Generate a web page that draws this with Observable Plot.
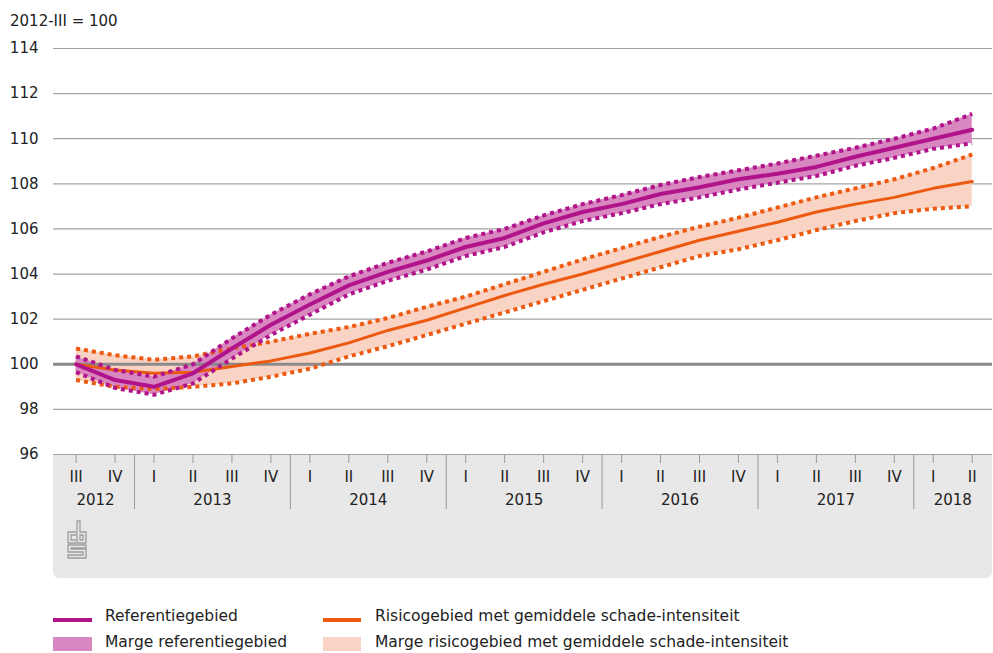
<!DOCTYPE html>
<html>
<head>
<meta charset="utf-8">
<script src="https://cdn.jsdelivr.net/npm/d3@7"></script>
<script src="https://cdn.jsdelivr.net/npm/@observablehq/plot@0.6"></script>
<style>
  html, body { margin: 0; padding: 0; background: #fff; }
  #wrap { position: relative; width: 993px; height: 653px; overflow: hidden; font-family: "DejaVu Sans", sans-serif; color: #222; }
  #axisbg { position: absolute; left: 53px; top: 454px; width: 939px; height: 124px; background: #e8e8e8; border-radius: 0 0 6px 6px; }
  #title { position: absolute; left: 10px; top: 12px; font-size: 15px; line-height: 18px; color: #222; white-space: nowrap; }
  #chart { position: absolute; left: 0; top: 0; }
  #logo { position: absolute; left: 66px; top: 519px; }
  .sw { position: absolute; }
  .lt { position: absolute; font-family: "DejaVu Sans", sans-serif; font-size: 15.5px; line-height: 20px; color: #222; white-space: nowrap; }
</style>
</head>
<body>
<div id="wrap">
  <div id="axisbg"></div>
  <svg id="logo" width="24" height="42" viewBox="0 0 24 42" fill="none" stroke="#9c9c9c" stroke-width="1.3">
    <path d="M10,13 H2 V24 H10"/>
    <path d="M10,16 H5 V21 H10"/>
    <path d="M11,2 V24 H20 V13 H14 V2 Z"/>
    <path d="M14,16 H17 V21 H14 Z"/>
    <path d="M20,26 H2 V33 H17 V36 H2 V39 H20 V30 H5 V29 H20 Z"/>
  </svg>
  <div id="chart"></div>
  <div id="title">2012-III = 100</div>
  <div class="sw" style="left:53px;top:618px;width:39px;height:4px;background:#b0138a"></div>
  <div class="lt" style="left:105px;top:606px">Referentiegebied</div>
  <div class="sw" style="left:53px;top:637px;width:39px;height:14px;background:#d887c1"></div>
  <div class="lt" style="left:105px;top:632px">Marge referentiegebied</div>
  <div class="sw" style="left:323px;top:618px;width:38px;height:4px;background:#ec5a12"></div>
  <div class="lt" style="left:375px;top:606px">Risicogebied met gemiddele schade-intensiteit</div>
  <div class="sw" style="left:323px;top:637px;width:38px;height:14px;background:#f9d3c3"></div>
  <div class="lt" style="left:375px;top:632px">Marge risicogebied met gemiddele schade-intensiteit</div>
</div>
<script>
// Quarter labels and years (2012-III .. 2018-II)
const quarters = ["III","IV","I","II","III","IV","I","II","III","IV","I","II","III","IV","I","II","III","IV","I","II","III","IV","I","II"];
const years = [2012,2012,2013,2013,2013,2013,2014,2014,2014,2014,2015,2015,2015,2015,2016,2016,2016,2016,2017,2017,2017,2017,2018,2018];
const yTicks = [96, 98, 100, 102, 104, 106, 108, 110, 112, 114];

// Referentiegebied
const refLine = [100.0, 99.3, 99.0, 99.6, 100.7, 101.75, 102.65, 103.5, 104.1, 104.6, 105.2, 105.6, 106.25, 106.75, 107.1, 107.55, 107.85, 108.2, 108.45, 108.75, 109.2, 109.6, 110.0, 110.4];
const refHigh = [100.35, 99.75, 99.45, 100.0, 101.15, 102.2, 103.1, 103.9, 104.5, 105.0, 105.6, 106.0, 106.6, 107.1, 107.5, 107.95, 108.3, 108.6, 108.9, 109.25, 109.6, 110.0, 110.45, 111.1];
const refLow = [99.65, 98.95, 98.65, 99.15, 100.25, 101.3, 102.2, 103.1, 103.7, 104.2, 104.8, 105.2, 105.85, 106.35, 106.7, 107.1, 107.4, 107.75, 108.05, 108.35, 108.8, 109.15, 109.55, 109.8];

// Risicogebied met gemiddele schade-intensiteit
const riskLine = [100.0, 99.75, 99.6, 99.65, 99.9, 100.15, 100.5, 100.95, 101.5, 101.95, 102.5, 103.05, 103.55, 104.0, 104.5, 105.0, 105.5, 105.9, 106.3, 106.75, 107.1, 107.4, 107.8, 108.1];
const riskHigh = [100.7, 100.4, 100.2, 100.35, 100.7, 101.0, 101.35, 101.65, 102.05, 102.55, 103.0, 103.55, 104.1, 104.65, 105.15, 105.65, 106.1, 106.5, 106.95, 107.4, 107.8, 108.2, 108.7, 109.3];
const riskLow = [99.3, 99.0, 98.9, 99.0, 99.15, 99.45, 99.8, 100.35, 100.8, 101.3, 101.8, 102.3, 102.8, 103.3, 103.8, 104.3, 104.8, 105.1, 105.5, 105.95, 106.35, 106.7, 106.9, 107.0];

const rows = quarters.map((q, i) => ({
  i, q, year: years[i],
  ref: refLine[i], refHigh: refHigh[i], refLow: refLow[i],
  risk: riskLine[i], riskHigh: riskHigh[i], riskLow: riskLow[i]
}));

// year groups: middle index and boundaries
const yearGroups = d3.groups(rows, d => d.year).map(([year, rs]) => ({
  year: String(year),
  mid: d3.mean(rs, d => d.i),
  first: d3.min(rs, d => d.i)
}));
const separators = yearGroups.slice(1).map(g => g.first - 0.5);

const purple = "#b0138a", purpleFill = "#d887c1";
const orange = "#ec5a12", orangeFill = "#f9d3c3";
const dotted = { strokeWidth: 4, strokeDasharray: "4,4", strokeLinecap: "butt", strokeLinejoin: "miter" };

const chart = Plot.plot({
  width: 993,
  height: 590,
  marginTop: 48,
  marginBottom: 136,
  marginLeft: 53,
  marginRight: 1,
  style: { background: "transparent", fontFamily: "DejaVu Sans, sans-serif", fontSize: "15px", color: "#222" },
  x: { domain: [-0.58, 23.52], axis: null },
  y: { domain: [96, 114], axis: null },
  marks: [
    Plot.gridY(yTicks, { stroke: "#a3a3a3", strokeOpacity: 1, strokeWidth: 1.2 }),
    Plot.areaY(rows, { x: "i", y1: "riskLow", y2: "riskHigh", fill: orangeFill, curve: "linear" }),
    Plot.areaY(rows, { x: "i", y1: "refLow", y2: "refHigh", fill: purpleFill, curve: "linear" }),
    Plot.ruleY([100], { stroke: "#8a8a8a", strokeWidth: 3 }),
    Plot.lineY(rows, { x: "i", y: "riskHigh", stroke: orange, ...dotted }),
    Plot.lineY(rows, { x: "i", y: "riskLow", stroke: orange, ...dotted }),
    Plot.lineY(rows, { x: "i", y: "risk", stroke: orange, strokeWidth: 3 }),
    Plot.lineY(rows, { x: "i", y: "refHigh", stroke: purple, ...dotted }),
    Plot.lineY(rows, { x: "i", y: "refLow", stroke: purple, ...dotted }),
    Plot.lineY(rows, { x: "i", y: "ref", stroke: purple, strokeWidth: 4 }),
    Plot.axisY({ ticks: yTicks, tickSize: 0, tickPadding: 15, label: null, fontSize: 15, fill: "#222" }),
    Plot.axisX({ ticks: rows.map(d => d.i), tickSize: 9, tickPadding: 8, tickFormat: i => quarters[i], label: null, stroke: "#9a9a9a", fill: "#222", fontSize: 15 }),
    Plot.axisX({ ticks: separators, tickSize: 55, tickFormat: () => "", label: null, stroke: "#9a9a9a" }),
    Plot.text(yearGroups, { x: "mid", text: "year", frameAnchor: "bottom", dy: 50, fontSize: 15, fill: "#222" })
  ]
});
document.getElementById("chart").appendChild(chart);
</script>
</body>
</html>
